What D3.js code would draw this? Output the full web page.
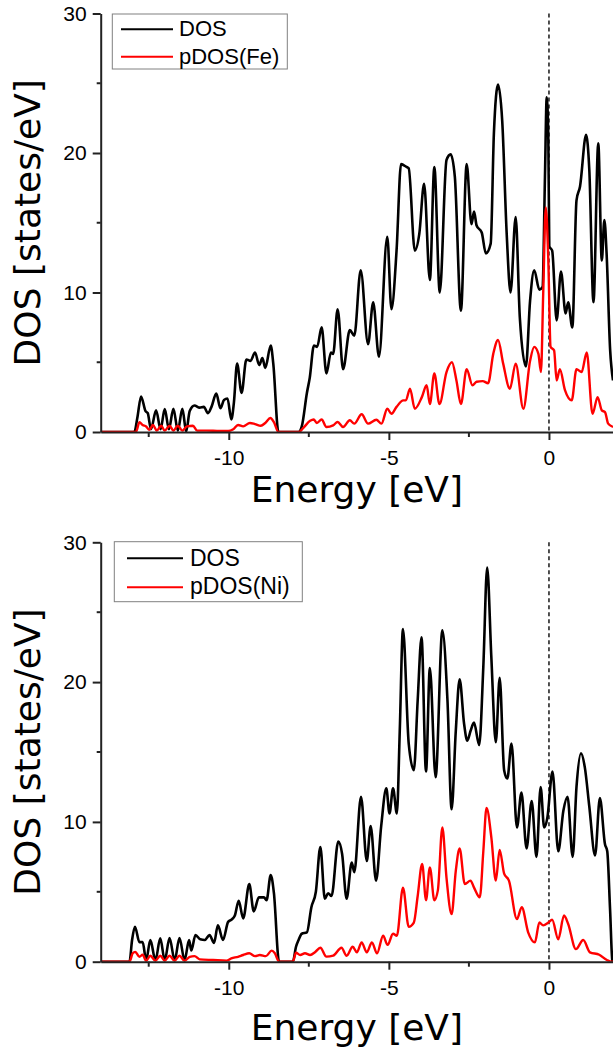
<!DOCTYPE html>
<html>
<head>
<meta charset="utf-8">
<script src="https://cdn.jsdelivr.net/npm/d3@7"></script>
<style>
  html, body { margin: 0; padding: 0; background: #fff; }
  svg { display: block; }
</style>
</head>
<body>
<svg id="chart" width="613" height="1051"></svg>
<script>
// ---------- Fe compound: total DOS ----------
const dosFeEnergy = [
  -14.0, -12.95, -12.85, -12.74, -12.6, -12.53, -12.43, -12.27, -12.13, -12.0, -11.87, -11.73, -11.59, -11.45,
  -11.33, -11.22, -11.07, -10.91, -10.78, -10.65, -10.54, -10.39, -10.26, -10.15, -10.04, -9.92, -9.84, -9.74,
  -9.60, -9.45, -9.32, -9.18, -9.05, -8.95, -8.86, -8.69, -8.61, -8.45, -7.82, -7.72, -7.56, -7.47, -7.34, -7.24,
  -7.10, -6.95, -6.81, -6.74, -6.60, -6.43, -6.22, -6.08, -5.88, -5.65, -5.49, -5.31, -5.05, -4.92, -4.76, -4.62,
  -4.45, -4.38, -4.19, -4.05, -3.90, -3.72, -3.58, -3.41, -3.20, -3.07, -2.94, -2.75, -2.57, -2.42, -2.34, -2.26,
  -2.10, -1.97, -1.82, -1.72, -1.59, -1.46, -1.32, -1.20, -1.04, -0.91, -0.72, -0.59, -0.46, -0.30, -0.20, -0.125,
  -0.07, -0.02, 0.01, 0.10, 0.24, 0.375, 0.52, 0.60, 0.73, 0.86, 0.97, 1.16, 1.26, 1.39, 1.54, 1.65, 1.73, 1.80,
  1.91, 2.0
];
const dosFeValue = [
  0, 0, 1.1, 2.55, 1.5, 1.35, 0.2, 1.55, 0.2, 1.65, 0.2, 1.67, 0.1, 1.67,
  0.05, 1.5, 1.9, 1.75, 1.8, 1.35, 1.8, 2.75, 1.7, 2.3, 2.4, 0.9, 2.1, 4.9,
  2.8, 5.2, 5.1, 5.7, 4.8, 5.3, 4.6, 6.2, 4.9, 0, 0, 0.4, 2.8, 3.9, 6.2, 6.1,
  7.5, 4.2, 5.7, 5.6, 8.8, 4.5, 7.3, 6.9, 11.6, 6.3, 9.3, 5.4, 14.0, 8.8, 13.0, 19.2,
  19.0, 18.9, 13.0, 14.2, 17.8, 10.9, 19.0, 10.0, 19.5, 19.9, 18.3, 8.7, 19.2, 14.9, 15.8, 14.8,
  14.3, 12.8, 13.5, 21.4, 24.9, 22.3, 14.2, 10.0, 15.4, 8.2, 4.7, 9.4, 11.6, 10.2, 10.4, 18.3,
  24.0, 21.1, 13.3, 13.0, 8.0, 11.5, 8.5, 9.3, 7.5, 16.6, 17.6, 21.3, 18.8, 9.3, 20.7, 12.3, 15.2, 12.8,
  5.9, 3.7
];

// ---------- Fe compound: projected DOS on Fe ----------
const pdosFeEnergy = [
  -14.0, -12.9, -12.79, -12.69, -12.58, -12.48, -12.37, -12.25, -12.11, -12.0, -11.85, -11.73, -11.59, -11.45,
  -11.31, -11.12, -10.99, -10.70, -10.28, -10.02, -9.86, -9.71, -9.55, -9.34, -9.18, -9.0, -8.86, -8.70, -8.59,
  -8.45, -7.82, -7.67, -7.46, -7.35, -7.25, -7.10, -6.95, -6.74, -6.60, -6.43, -6.22, -6.08, -5.85, -5.65, -5.39,
  -5.23, -5.05, -4.92, -4.76, -4.55, -4.47, -4.34, -4.19, -3.97, -3.82, -3.72, -3.58, -3.42, -3.20, -3.03, -2.89,
  -2.75, -2.57, -2.39, -2.26, -2.07, -1.90, -1.74, -1.59, -1.43, -1.22, -1.04, -0.80, -0.59, -0.46, -0.33, -0.25,
  -0.18, -0.10, -0.02, 0.05, 0.16, 0.24, 0.34, 0.50, 0.71, 0.86, 1.02, 1.18, 1.36, 1.52, 1.65, 1.75, 1.85, 2.0
];
const pdosFeValue = [
  0, 0, 0.7, 0.5, 0.4, 0.15, 0.5, 0.1, 0.45, 0.1, 0.45, 0.1, 0.45, 0.1,
  0.4, 0.45, 0.1, 0.1, 0.07, 0.07, 0.2, 0.5, 0.4, 0.65, 0.57, 0.45, 0.65, 1.0, 0.7,
  0, 0, 0.3, 0.8, 0.9, 0.65, 0.9, 0.36, 0.48, 0.72, 0.36, 0.84, 0.6, 1.27, 0.6, 0.88,
  0.6, 1.67, 1.3, 1.8, 2.27, 2.27, 3.1, 1.67, 2.5, 3.35, 2.0, 4.2, 2.0, 4.3, 5.0, 3.7,
  2.0, 4.5, 3.35, 3.6, 3.65, 3.5, 5.6, 6.6, 4.9, 3.1, 4.9, 1.67, 5.1, 6.1, 5.6, 4.3,
  9.9, 16.1, 12.3, 6.1, 5.85, 3.7, 4.5, 3.0, 2.27, 4.5, 4.3, 5.7, 1.3, 2.5, 1.55, 1.43, 0.6, 0.36
];

// ---------- Ni compound: total DOS ----------
const dosNiEnergy = [
  -14.0, -13.1, -13.02, -12.93, -12.79, -12.69, -12.58, -12.45, -12.29, -12.14, -12.0, -11.85, -11.69, -11.54,
  -11.38, -11.24, -11.17, -11.04, -10.89, -10.75, -10.60, -10.46, -10.34, -10.18, -10.02, -9.92, -9.81, -9.69,
  -9.55, -9.36, -9.22, -9.06, -8.90, -8.82, -8.69, -8.59, -8.43, -8.0, -7.90, -7.82, -7.72, -7.56, -7.42, -7.28,
  -7.14, -7.0, -6.90, -6.79, -6.58, -6.46, -6.32, -6.16, -6.08, -5.87, -5.69, -5.57, -5.40, -5.24, -5.08, -4.98,
  -4.87, -4.75, -4.66, -4.56, -4.38, -4.22, -4.10, -3.98, -3.84, -3.72, -3.54, -3.33, -3.17, -3.04, -2.91, -2.79,
  -2.65, -2.55, -2.45, -2.34, -2.18, -2.05, -1.93, -1.80, -1.66, -1.54, -1.40, -1.30, -1.17, -1.0, -0.86, -0.70,
  -0.54, -0.39, -0.26, -0.15, -0.05, 0.11, 0.29, 0.45, 0.58, 0.74, 0.86, 1.0, 1.12, 1.26, 1.44, 1.59, 1.75, 1.82,
  1.91, 1.98, 2.0
];
const dosNiValue = [
  0, 0, 1.55, 2.5, 1.4, 1.4, 0.1, 1.55, 0.1, 1.67, 0.1, 1.7, 0.1, 1.7,
  0.1, 1.55, 0.8, 1.9, 1.6, 1.55, 1.9, 1.35, 2.6, 1.55, 2.85, 3.0, 3.3, 4.35,
  3.1, 5.55, 3.6, 4.6, 4.6, 4.4, 6.2, 4.9, 0, 0, 1.07, 1.55, 2.0, 2.1, 3.9, 5.0,
  8.2, 4.5, 4.9, 4.7, 8.6, 7.7, 4.5, 7.1, 6.4, 11.8, 7.2, 9.7, 5.8, 9.7, 12.4, 10.6,
  12.4, 10.6, 16.5, 23.8, 15.6, 13.7, 18.7, 23.2, 13.6, 21.0, 13.2, 23.7, 18.7, 10.9, 16.5, 20.2,
  17.0, 15.8, 16.5, 17.1, 15.5, 21.1, 28.2, 21.8, 15.7, 20.3, 13.7, 13.1, 15.6, 9.6, 12.1, 8.1,
  11.5, 7.5, 12.5, 9.6, 10.3, 13.6, 7.9, 10.8, 11.8, 7.5, 12.5, 14.9, 13.9, 11.1, 7.6, 11.7, 8.4, 7.9,
  3.65, 0.07, 0
];

// ---------- Ni compound: projected DOS on Ni ----------
const pdosNiEnergy = [
  -14.0, -13.1, -13.0, -12.92, -12.79, -12.69, -12.58, -12.45, -12.29, -12.14, -12.0, -11.85, -11.69, -11.54,
  -11.38, -11.22, -11.07, -10.91, -10.49, -10.07, -9.92, -9.71, -9.55, -9.36, -9.18, -9.03, -8.84, -8.66, -8.56,
  -8.43, -8.0, -7.90, -7.77, -7.62, -7.46, -7.30, -7.14, -6.95, -6.74, -6.48, -6.32, -6.13, -6.0, -5.85, -5.69,
  -5.53, -5.37, -5.18, -5.04, -4.87, -4.75, -4.56, -4.38, -4.22, -4.10, -3.96, -3.84, -3.72, -3.58, -3.47, -3.33,
  -3.20, -3.04, -2.91, -2.79, -2.63, -2.45, -2.34, -2.16, -2.05, -1.95, -1.80, -1.66, -1.54, -1.40, -1.25, -1.0,
  -0.85, -0.65, -0.44, -0.30, -0.18, -0.02, 0.10, 0.29, 0.47, 0.60, 0.84, 1.07, 1.28, 1.57, 1.81, 1.96, 2.0
];
const pdosNiValue = [
  0, 0, 0.6, 0.7, 0.35, 0.5, 0.07, 0.43, 0.07, 0.43, 0.07, 0.43, 0.07, 0.43,
  0.07, 0.35, 0.4, 0.17, 0.12, 0.07, 0.24, 0.35, 0.48, 0.6, 0.4, 0.48, 0.4, 0.79, 0.6,
  0, 0, 0.64, 0.48, 0.6, 0.48, 0.7, 1.0, 0.36, 0.43, 1.0, 0.43, 1.07, 0.67, 1.38, 0.67,
  1.38, 0.6, 1.86, 1.2, 2.0, 1.86, 5.3, 2.5, 2.8, 4.7, 7.0, 4.4, 6.75, 4.4, 5.1, 9.6,
  6.0, 3.4, 6.5, 8.1, 5.56, 5.8, 5.3, 4.6, 7.9, 11.0, 8.9, 5.8, 8.0, 6.3, 5.8, 3.05,
  3.9, 2.1, 1.38, 2.8, 2.6, 2.8, 3.0, 1.6, 3.3, 2.7, 0.9, 1.55, 0.67, 0.5, 0.12, 0, 0
];

// ---------- axes ----------
const energyDomain = [-14, 2];
const dosDomain = [0, 30];
const xTicks = [-10, -5, 0];
const xMinorTicks = [-12.5, -7.5, -2.5];
const yTicks = [0, 10, 20, 30];
const yMinorTicks = [5, 15, 25];
const fermiLevel = 0;

const xTitle = "Energy [eV]";
const yTitle = "DOS [states/eV]";

const zip = (xs, ys) => xs.map((e, i) => ({ e, v: ys[i] }));

// Layout of the two stacked panels
const plotLeft = 100.7, plotRight = 613;
const panels = [
  {
    top: 13.5, bottom: 432,
    dos: zip(dosFeEnergy, dosFeValue), pdos: zip(pdosFeEnergy, pdosFeValue),
    labels: ["DOS", "pDOS(Fe)"],
    legend: { x: 112.3, y: 14, w: 175, h: 55, lx0: 121, lx1: 173, ly: [29.3, 56.7], tx: 179, ty: [36, 64], fs: 22 },
    xTitleY: 502
  },
  {
    top: 542.3, bottom: 961.7,
    dos: zip(dosNiEnergy, dosNiValue), pdos: zip(pdosNiEnergy, pdosNiValue),
    labels: ["DOS", "pDOS(Ni)"],
    legend: { x: 114.3, y: 541.7, w: 188, h: 60, lx0: 127, lx1: 183, ly: [558.3, 587.3], tx: 190, ty: [566, 594], fs: 23 },
    xTitleY: 1040
  }
];

const svg = d3.select("#chart");
svg.append("rect").attr("width", 613).attr("height", 1051).attr("fill", "#fff");

const tickFont = "'Liberation Sans', Arial, sans-serif";
const titleFont = "'DejaVu Sans', Verdana, sans-serif";

panels.forEach((p, idx) => {
  const x = d3.scaleLinear().domain(energyDomain).range([plotLeft, plotRight]);
  const y = d3.scaleLinear().domain(dosDomain).range([p.bottom, p.top]);

  const clipId = "clip" + idx;
  svg.append("clipPath").attr("id", clipId)
    .append("rect")
    .attr("x", plotLeft).attr("y", p.top - 5)
    .attr("width", plotRight - plotLeft).attr("height", p.bottom - p.top + 5);

  const g = svg.append("g");

  // Fermi level
  g.append("line")
    .attr("x1", x(fermiLevel)).attr("x2", x(fermiLevel))
    .attr("y1", y(dosDomain[1])).attr("y2", y(0))
    .attr("stroke", "#333").attr("stroke-width", 1.7)
    .attr("stroke-dasharray", "4,3");

  const line = d3.line()
    .x(d => x(d.e)).y(d => y(d.v))
    .curve(d3.curveMonotoneX);

  const curves = g.append("g").attr("clip-path", `url(#${clipId})`);
  curves.append("path").datum(p.dos)
    .attr("d", line).attr("fill", "none")
    .attr("stroke", "#000").attr("stroke-width", 2.6)
    .attr("stroke-linejoin", "round");
  curves.append("path").datum(p.pdos)
    .attr("d", line).attr("fill", "none")
    .attr("stroke", "#ff0000").attr("stroke-width", 2.4)
    .attr("stroke-linejoin", "round");

  // Y axis
  const yAxis = d3.axisLeft(y).tickValues(yTicks).tickSize(8).tickPadding(6)
    .tickSizeOuter(0).tickFormat(d => String(d));
  const gy = g.append("g").attr("transform", `translate(${plotLeft},0)`).call(yAxis);
  gy.selectAll(".tick line").attr("stroke", "#222").attr("stroke-width", 2);
  gy.select(".domain").attr("stroke", "#222").attr("stroke-width", 2);
  gy.selectAll("text").attr("font-family", tickFont).attr("font-size", 21).attr("fill", "#000");
  gy.selectAll(".minor").data(yMinorTicks).enter().append("line")
    .attr("x1", -4).attr("x2", 0)
    .attr("y1", d => y(d)).attr("y2", d => y(d))
    .attr("stroke", "#222").attr("stroke-width", 2);

  // X axis
  const xAxis = d3.axisBottom(x).tickValues(xTicks).tickSize(8).tickPadding(10)
    .tickSizeOuter(0).tickFormat(d => String(d));
  const gx = g.append("g").attr("transform", `translate(0,${p.bottom})`).call(xAxis);
  gx.selectAll(".tick line").attr("stroke", "#222").attr("stroke-width", 2);
  gx.select(".domain").attr("stroke", "#222").attr("stroke-width", 2);
  gx.selectAll("text").attr("font-family", tickFont).attr("font-size", 21).attr("fill", "#000");
  gx.selectAll(".minor").data(xMinorTicks).enter().append("line")
    .attr("x1", d => x(d)).attr("x2", d => x(d))
    .attr("y1", 0).attr("y2", 5)
    .attr("stroke", "#222").attr("stroke-width", 2);

  // Axis titles
  g.append("text")
    .attr("x", (plotLeft + plotRight) / 2).attr("y", p.xTitleY)
    .attr("text-anchor", "middle")
    .attr("font-family", titleFont).attr("font-size", 36)
    .text(xTitle);
  g.append("text")
    .attr("transform", `translate(40,${(p.top + p.bottom) / 2}) rotate(-90)`)
    .attr("text-anchor", "middle")
    .attr("font-family", titleFont).attr("font-size", 36)
    .text(yTitle);

  // Legend
  const L = p.legend;
  const lg = g.append("g");
  lg.append("rect")
    .attr("x", L.x).attr("y", L.y).attr("width", L.w).attr("height", L.h)
    .attr("fill", "#fff").attr("stroke", "#808080").attr("stroke-width", 1);
  const colors = ["#000", "#ff0000"];
  p.labels.forEach((lab, i) => {
    lg.append("line")
      .attr("x1", L.lx0).attr("x2", L.lx1).attr("y1", L.ly[i]).attr("y2", L.ly[i])
      .attr("stroke", colors[i]).attr("stroke-width", 2);
    lg.append("text")
      .attr("x", L.tx).attr("y", L.ty[i])
      .attr("font-family", tickFont).attr("font-size", L.fs).attr("fill", "#000")
      .text(lab);
  });
});
</script>
</body>
</html>
